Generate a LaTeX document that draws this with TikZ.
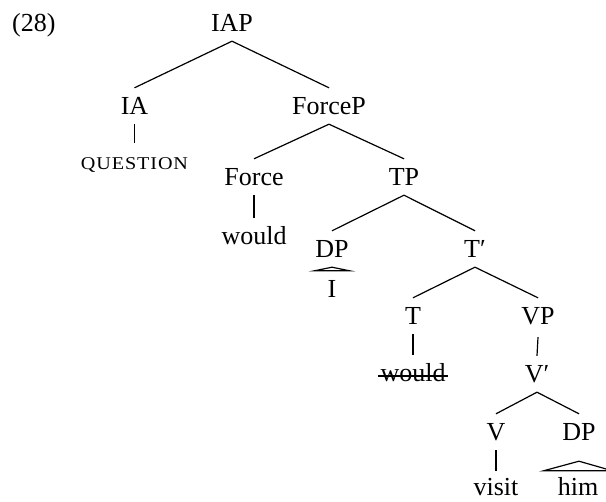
\documentclass[tikz,border=0pt]{standalone}
\usepackage{fontspec}
\setmainfont{Liberation Serif}
\newfontfamily\kapfont[FakeStretch=1.12,LetterSpace=5]{Liberation Serif}
\usepackage{tikz}

\begin{document}
\begin{tikzpicture}[x=1pt,y=-1pt,kat/.style={anchor=base,inner xsep=2pt,inner ysep=0pt,
    text height=27pt,text depth=9pt,font=\fontsize{26}{30}\selectfont},
    blatt/.style={kat,text height=25pt,text depth=1pt},
    ast/.style={line width=1.2pt,draw=black}]

  \useasboundingbox (0,0) rectangle (606,502);

  \node [kat,anchor=base west] (nr) at (10,32) {(28)};

  \node [kat] (iap) at (232,32) {IAP};
  \node [kat] (ia) at (134.5,115) {IA};
  \node [kat,font=\kapfont\fontsize{18}{20}\selectfont] (frage) at (134.5,170) {QUESTION};
  \node [kat] (forcep) at (329,115) {ForceP};
  \node [kat] (force) at (254,186) {Force};
  \node [kat] (wa) at (254,245) {would};
  \node [kat] (tp) at (404,186) {TP};
  \node [kat] (dpa) at (332,258) {DP};
  \node [kat] (ich) at (332,298) {I};
  \node [kat] (tbar) at (475,258) {T′};
  \node [kat] (t) at (413,325) {T};
  \node [kat] (wb) at (413,382) {would};
  \node [kat,text depth=12pt] (vp) at (538,325) {VP};
  \node [kat] (vbar) at (537,383) {V′};
  \node [kat] (v) at (496,441) {V};
  \node [blatt] (besuch) at (496,496) {visit};
  \node [kat] (dpb) at (579,441) {DP};
  \node [blatt] (ihn) at (578,496) {him};

  \draw [ast] (iap.south) -- (ia.north);
  \draw [ast] (iap.south) -- (forcep.north);
  \draw [ast] (ia.south) -- (frage.north);
  \draw [ast] (forcep.south) -- (force.north);
  \draw [ast] (forcep.south) -- (tp.north);
  \draw [ast] (force.south) -- (wa.north);
  \draw [ast] (tp.south) -- (dpa.north);
  \draw [ast] (tp.south) -- (tbar.north);
  \draw [ast] (tbar.south) -- (t.north);
  \draw [ast] (tbar.south) -- (vp.north);
  \draw [ast] (t.south) -- (wb.north);
  \draw [ast] (vp.south) -- (vbar.north);
  \draw [ast] (vbar.south) -- (v.north);
  \draw [ast] (vbar.south) -- (dpb.north);
  \draw [ast] (v.south) -- (besuch.north);

  \draw [ast] (dpa.south) -- ([xshift=-11pt]ich.north west) -- ([xshift=11pt]ich.north east) -- cycle;
  \draw [ast] ([yshift=-11pt]dpb.south) -- ([xshift=-12pt]ihn.north west) -- ([xshift=12pt]ihn.north east) -- cycle;

  \draw [ast] ([yshift=6pt]wb.base west) -- ([yshift=6pt]wb.base east);

\end{tikzpicture}
\end{document}
